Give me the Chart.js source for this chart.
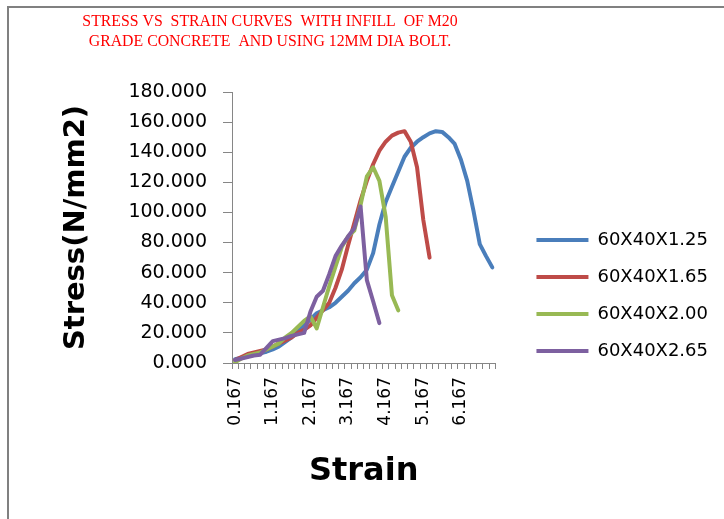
<!DOCTYPE html>
<html>
<head>
<meta charset="utf-8">
<script src="https://cdn.jsdelivr.net/npm/chart.js@4.4.1/dist/chart.umd.min.js"></script>
<style>
  html, body { margin: 0; padding: 0; background: #fff; }
  #wrap { position: relative; width: 724px; height: 519px; }
</style>
</head>
<body>
<div id="wrap"><canvas id="stressChart" width="724" height="519"></canvas></div>
<script>
// strain categories (one every 1/6), only every 6th label is shown
const strainLabels = [
  '0.167', '0.333', '0.500', '0.667', '0.833', '1.000',
  '1.167', '1.333', '1.500', '1.667', '1.833', '2.000',
  '2.167', '2.333', '2.500', '2.667', '2.833', '3.000',
  '3.167', '3.333', '3.500', '3.667', '3.833', '4.000',
  '4.167', '4.333', '4.500', '4.667', '4.833', '5.000',
  '5.167', '5.333', '5.500', '5.667', '5.833', '6.000',
  '6.167', '6.333', '6.500', '6.667', '6.833', '7.000'
];

const seriesNames = ['60X40X1.25', '60X40X1.65', '60X40X2.00', '60X40X2.65'];
const seriesColors = ['#4a7ebb', '#be4b48', '#98b954', '#7d60a0'];

// stress (N/mm2)
const stress125 = [2.5, 3.5, 4.5, 5.5, 6.5, 7.5, 9, 11, 14, 17,
  21, 25, 29, 33, 35, 37, 40, 44, 48, 53,
  57, 62, 73, 92, 107, 117, 127, 137, 143, 147,
  150, 152.5, 154, 153.5, 150, 145.5, 135, 121, 101, 79,
  71, 63.5];
const stress165 = [2, 4, 6, 7, 8, 9, 11, 13, 15, 17,
  20, 22, 25, 30, 35, 40, 50, 62, 78, 93,
  108, 121, 132, 141, 147, 151, 153, 154, 147, 130,
  95, 70];
const stress200 = [0.5, 3, 5, 6, 7, 9, 11, 13, 17, 20,
  24, 28, 31, 23, 37, 51, 64, 77, 84, 88,
  105, 124, 130, 121, 97, 45, 35];
const stress265 = [2, 3, 4, 5, 5.5, 10, 14.5, 15.5, 16.5, 18,
  19, 20, 34, 44, 48, 59, 71, 78, 84, 89.5,
  104, 55, 41, 26.5];

const yMin = 0;
const yMax = 180;
const yStep = 20;

const titleLines = [
  'STRESS VS  STRAIN CURVES  WITH INFILL  OF M20',
  'GRADE CONCRETE  AND USING 12MM DIA BOLT.'
];

const tickFont = { family: "'DejaVu Sans', sans-serif", size: 19 };
const legendFont = { family: "'DejaVu Sans', sans-serif", size: 18 };

// white page + grey frame on the left and top
const framePlugin = {
  id: 'frame',
  beforeDraw(chart) {
    const c = chart.ctx;
    c.save();
    c.fillStyle = '#fff';
    c.fillRect(0, 0, chart.width, chart.height);
    c.strokeStyle = '#808080';
    c.lineWidth = 2;
    c.beginPath();
    c.moveTo(8, chart.height);
    c.lineTo(8, 7);
    c.lineTo(chart.width, 7);
    c.stroke();
    c.restore();
  }
};

// red serif title, centred over the left part like the original
const titlePlugin = {
  id: 'redTitle',
  afterDraw(chart) {
    const c = chart.ctx;
    c.save();
    c.fillStyle = '#ff0000';
    c.font = "15.8px 'Liberation Serif', serif";
    c.textAlign = 'center';
    c.textBaseline = 'middle';
    titleLines.forEach((t, i) => c.fillText(t, 270, 22 + i * 20));
    c.restore();
  }
};

const stressSeries = [stress125, stress165, stress200, stress265];

const ctx = document.getElementById('stressChart').getContext('2d');
new Chart(ctx, {
  type: 'line',
  data: {
    labels: strainLabels,
    datasets: stressSeries.map((vals, i) => ({
      label: seriesNames[i],
      data: vals,
      borderColor: seriesColors[i],
      backgroundColor: seriesColors[i],
      borderWidth: 4,
      pointRadius: 0,
      tension: 0,
      borderJoinStyle: 'round',
      borderCapStyle: 'round',
      fill: false,
      order: 4 - i   // later series drawn on top, as in Excel
    }))
  },
  options: {
    responsive: false,
    animation: false,
    devicePixelRatio: 1,
    layout: { padding: { top: 92, bottom: 20, left: 55, right: 6 } },
    plugins: {
      title: { display: false },
      tooltip: { enabled: false },
      legend: {
        position: 'right',
        maxWidth: 300,
        labels: {
          usePointStyle: true,
          pointStyle: 'line',
          pointStyleWidth: 52,
          padding: 19,
          color: '#000',
          font: legendFont,
          sort: (a, b) => a.datasetIndex - b.datasetIndex
        }
      }
    },
    scales: {
      x: {
        offset: true,
        grid: { offset: true, drawOnChartArea: false, tickLength: 6, color: '#868686' },
        border: { color: '#868686' },
        ticks: {
          autoSkip: false,
          maxRotation: 90,
          minRotation: 90,
          padding: 8,
          color: '#000',
          font: { family: "'DejaVu Sans', sans-serif", size: 17 },
          callback: function(v, i) { return i % 6 === 0 ? this.getLabelForValue(v) : ''; }
        },
        title: {
          display: true,
          text: 'Strain',
          color: '#000',
          font: { family: "'DejaVu Sans', sans-serif", size: 32, weight: 'bold' },
          padding: { top: 4, bottom: 8 }
        },
        afterFit: s => { s.height = 136; }
      },
      y: {
        min: yMin,
        max: yMax,
        grid: { drawOnChartArea: false, tickLength: 9, color: '#868686' },
        border: { color: '#868686' },
        ticks: {
          stepSize: yStep,
          padding: 16,
          color: '#000',
          font: tickFont,
          callback: v => v.toFixed(3)
        },
        title: {
          display: true,
          text: 'Stress(N/mm2)',
          color: '#000',
          font: { family: "'DejaVu Sans', sans-serif", size: 29, weight: 'bold' },
          padding: { top: 4, bottom: 4 }
        },
        afterFit: s => { s.width = 177; }
      },
      // empty spacer between plot and legend
      gap: {
        position: 'right',
        grid: { display: false },
        border: { display: false },
        ticks: { display: false },
        afterFit: s => { s.width = 22; }
      }
    }
  },
  plugins: [framePlugin, titlePlugin]
});
</script>
</body>
</html>
